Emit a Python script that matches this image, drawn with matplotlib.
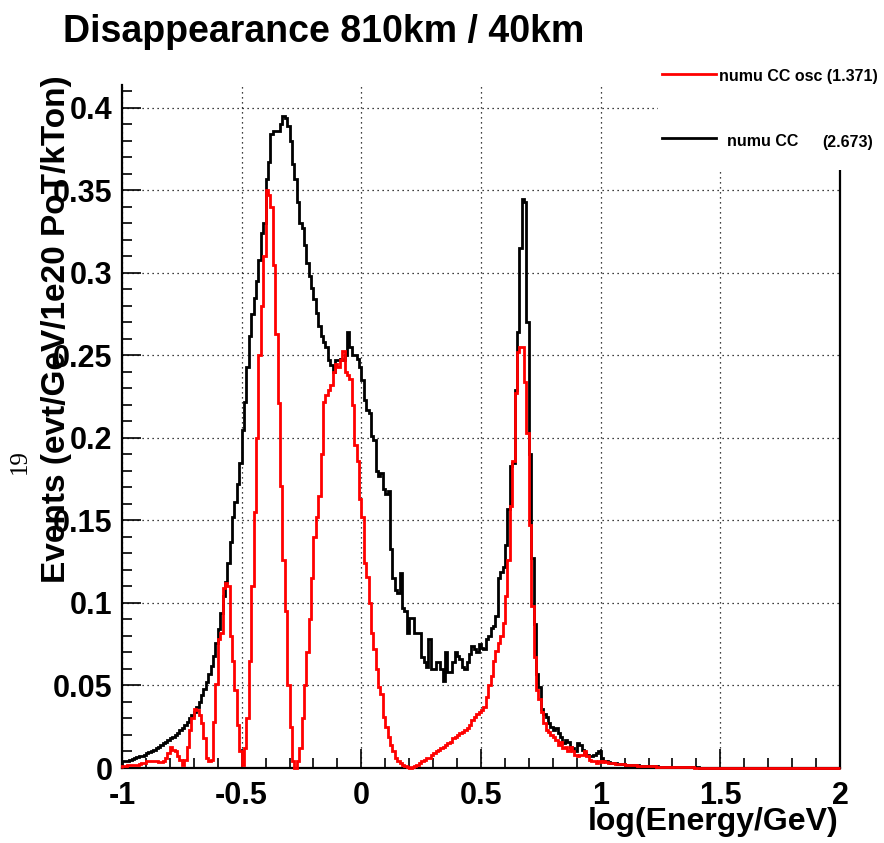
import numpy as np
import matplotlib.pyplot as plt
from matplotlib.patches import Rectangle
from matplotlib.lines import Line2D

plt.rcParams['font.family'] = ['Liberation Sans', 'DejaVu Sans']

# 300 bins of 0.01 in log10(E/GeV), from -1 to 2
edges = np.round(np.arange(-1.0, 2.0001, 0.01), 2)

numu_cc = np.array([
    0.004, 0.004, 0.0045, 0.005, 0.0055, 0.006, 0.0065, 0.007, 0.0075, 0.008,
    0.009, 0.0095, 0.010, 0.011, 0.012, 0.013, 0.014, 0.015, 0.016, 0.017,
    0.018, 0.019, 0.020, 0.021, 0.023, 0.024, 0.026, 0.028, 0.030, 0.032,
    0.034, 0.037, 0.040, 0.044, 0.048, 0.052, 0.057, 0.062, 0.068, 0.076,
    0.084, 0.094, 0.104, 0.113, 0.124, 0.137, 0.152, 0.161, 0.172, 0.185,
    0.205, 0.222, 0.243, 0.262, 0.275, 0.285, 0.295, 0.308, 0.324, 0.330,
    0.357, 0.367, 0.384, 0.386, 0.386, 0.386, 0.390, 0.395, 0.394, 0.389,
    0.380, 0.366, 0.357, 0.343, 0.330, 0.327, 0.317, 0.306, 0.298, 0.291,
    0.284, 0.276, 0.268, 0.262, 0.258, 0.255, 0.247, 0.244, 0.240, 0.247,
    0.247, 0.248, 0.247, 0.250, 0.264, 0.255, 0.250, 0.250, 0.248, 0.243,
    0.235, 0.223, 0.217, 0.215, 0.201, 0.199, 0.180, 0.177, 0.179, 0.169,
    0.166, 0.168, 0.133, 0.115, 0.108, 0.106, 0.118, 0.097, 0.095, 0.082,
    0.091, 0.091, 0.082, 0.082, 0.082, 0.067, 0.064, 0.061, 0.078, 0.060,
    0.060, 0.064, 0.064, 0.060, 0.053, 0.070, 0.058, 0.058, 0.064, 0.070,
    0.068, 0.066, 0.061, 0.060, 0.064, 0.069, 0.074, 0.072, 0.070, 0.075,
    0.073, 0.072, 0.078, 0.080, 0.085, 0.086, 0.092, 0.115, 0.119, 0.122,
    0.135, 0.157, 0.183, 0.185, 0.229, 0.264, 0.315, 0.345, 0.343, 0.270,
    0.190, 0.127, 0.087, 0.057, 0.049, 0.036, 0.033, 0.031, 0.027, 0.025,
    0.023, 0.024, 0.021, 0.019, 0.015, 0.017, 0.016, 0.013, 0.012, 0.010,
    0.015, 0.014, 0.011, 0.009, 0.008, 0.007, 0.007, 0.008, 0.009, 0.010,
    0.006, 0.0045, 0.004, 0.0035, 0.003, 0.003, 0.0028, 0.0026, 0.0025, 0.0023,
    0.0021, 0.002, 0.0019, 0.0018, 0.0017, 0.0016, 0.0015, 0.0014, 0.0013, 0.0013,
    0.0012, 0.0011, 0.001, 0.001, 0.0009, 0.0009, 0.0008, 0.0008, 0.0007, 0.0007,
    0.0006, 0.0006, 0.0006, 0.0005, 0.0005, 0.0005, 0.0005, 0.0004, 0.0004, 0.0004,
    0.0004, 0.0003, 0.0003, 0.0003, 0.0003, 0.0003, 0.0003, 0.0003, 0.0003, 0.0003,
    0.0003, 0.0003, 0.0003, 0.0003, 0.0002, 0.0002, 0.0002, 0.0002, 0.0002, 0.0002,
    0.0002, 0.0002, 0.0002, 0.0002, 0.0002, 0.0002, 0.0002, 0.0002, 0.0002, 0.0002,
    0.0002, 0.0002, 0.0001, 0.0001, 0.0001, 0.0001, 0.0001, 0.0001, 0.0001, 0.0001,
    0.0001, 0.0001, 0.0001, 0.0001, 0.0001, 0.0001, 0.0001, 0.0001, 0.0001, 0.0001,
    0.0001, 0.0001, 0.0001, 0.0001, 0.0001, 0.0001, 0.0001, 0.0001, 0.0001, 0.0001,
])

numu_cc_osc = np.array([
    0.0015, 0.0015, 0.002, 0.002, 0.002, 0.002, 0.002, 0.0025, 0.003, 0.003,
    0.004, 0.0045, 0.0045, 0.004, 0.004, 0.0035, 0.0035, 0.004, 0.006, 0.009,
    0.013, 0.011, 0.010, 0.007, 0.005, 0.002, 0.005, 0.013, 0.023, 0.030,
    0.036, 0.035, 0.032, 0.027, 0.018, 0.006, 0.004, 0.005, 0.028, 0.051,
    0.078, 0.082, 0.109, 0.112, 0.110, 0.080, 0.065, 0.047, 0.026, 0.010,
    0.002, 0.012, 0.030, 0.065, 0.110, 0.155, 0.200, 0.250, 0.280, 0.310,
    0.350, 0.347, 0.340, 0.305, 0.263, 0.221, 0.171, 0.126, 0.095, 0.050,
    0.025, 0.004, 0.000, 0.004, 0.012, 0.030, 0.050, 0.070, 0.090, 0.115,
    0.140, 0.152, 0.165, 0.190, 0.222, 0.226, 0.229, 0.232, 0.240, 0.245,
    0.243, 0.247, 0.253, 0.240, 0.238, 0.236, 0.220, 0.196, 0.186, 0.163,
    0.152, 0.124, 0.116, 0.100, 0.082, 0.072, 0.060, 0.049, 0.045, 0.031,
    0.025, 0.019, 0.014, 0.010, 0.006, 0.004, 0.003, 0.002, 0.001, 0.0005,
    0.000, 0.0005, 0.001, 0.002, 0.003, 0.004, 0.005, 0.006, 0.006, 0.008,
    0.009, 0.010, 0.011, 0.012, 0.013, 0.014, 0.015, 0.016, 0.018, 0.019,
    0.020, 0.021, 0.022, 0.023, 0.024, 0.026, 0.029, 0.031, 0.033, 0.034,
    0.035, 0.037, 0.043, 0.050, 0.056, 0.065, 0.071, 0.076, 0.080, 0.088,
    0.104, 0.126, 0.159, 0.186, 0.227, 0.252, 0.255, 0.255, 0.234, 0.203,
    0.147, 0.098, 0.067, 0.047, 0.042, 0.034, 0.027, 0.023, 0.022, 0.020,
    0.019, 0.017, 0.014, 0.016, 0.012, 0.013, 0.010, 0.013, 0.010, 0.008,
    0.007, 0.008, 0.008, 0.010, 0.007, 0.005, 0.004, 0.004, 0.003, 0.004,
    0.0035, 0.004, 0.0035, 0.003, 0.003, 0.0028, 0.0026, 0.0025, 0.0023, 0.0022,
    0.002, 0.0019, 0.0018, 0.0017, 0.0016, 0.0015, 0.0014, 0.0013, 0.0012, 0.0012,
    0.0011, 0.001, 0.001, 0.0009, 0.0009, 0.0008, 0.0008, 0.0007, 0.0007, 0.0006,
    0.0006, 0.0005, 0.0005, 0.0005, 0.0005, 0.0004, 0.0004, 0.0004, 0.0004, 0.0003,
    0.0003, 0.0003, 0.0003, 0.0003, 0.0003, 0.0003, 0.0003, 0.0003, 0.0003, 0.0003,
    0.0003, 0.0003, 0.0002, 0.0002, 0.0002, 0.0002, 0.0002, 0.0002, 0.0002, 0.0002,
    0.0002, 0.0002, 0.0002, 0.0002, 0.0002, 0.0002, 0.0002, 0.0002, 0.0002, 0.0002,
    0.0002, 0.0001, 0.0001, 0.0001, 0.0001, 0.0001, 0.0001, 0.0001, 0.0001, 0.0001,
    0.0001, 0.0001, 0.0001, 0.0001, 0.0001, 0.0001, 0.0001, 0.0001, 0.0001, 0.0001,
    0.0001, 0.0001, 0.0001, 0.0001, 0.0001, 0.0001, 0.0001, 0.0001, 0.0001, 0.0001,
])

xticks = [-1, -0.5, 0, 0.5, 1, 1.5, 2]
xticklabels = ['-1', '-0.5', '0', '0.5', '1', '1.5', '2']
yticks = [0, 0.05, 0.1, 0.15, 0.2, 0.25, 0.3, 0.35, 0.4]
yticklabels = ['0', '0.05', '0.1', '0.15', '0.2', '0.25', '0.3', '0.35', '0.4']

W, H = 884, 843
fig = plt.figure(figsize=(W / 100, H / 100), dpi=100)
ax = fig.add_axes([122 / W, 1 - 768 / H, (840 - 122) / W, (768 - 85) / H])

# drawn above the frame, like ROOT does, so the tails sit on the axis line
ax.stairs(numu_cc, edges, color='black', linewidth=2.0, zorder=3,
          clip_on=False)
ax.stairs(numu_cc_osc, edges, color='#ff0000', linewidth=2.0, zorder=3.1,
          clip_on=False)

ax.set_xlim(-1, 2)
ax.set_ylim(0, 0.4139)

ax.set_xticks(xticks)
ax.set_xticklabels(xticklabels)
ax.set_yticks(yticks)
ax.set_yticklabels(yticklabels)
ax.set_xticks(np.arange(-1, 2.001, 0.1), minor=True)
ax.set_yticks(np.arange(0, 0.411, 0.01), minor=True)

ax.tick_params(which='major', direction='in', length=14, width=1.2,
               labelsize=22, pad=7)
ax.tick_params(which='minor', direction='in', length=7.5, width=1.2)
ax.tick_params(axis='x', which='major', pad=9)
for lab in ax.get_xticklabels() + ax.get_yticklabels():
    lab.set_fontweight('bold')

ax.grid(True, which='major', color='black', linestyle=(0, (1, 3)),
        linewidth=0.9)
ax.set_axisbelow(True)

for s in ('left', 'bottom', 'right'):
    ax.spines[s].set_linewidth(1.6)
ax.spines['top'].set_visible(False)

# title and axis titles, placed the ROOT way
fig.text(63 / W, 1 - 42 / H, 'Disappearance 810km / 40km',
         fontsize=27, fontweight='bold', ha='left', va='baseline')
fig.text(57 / W, 1 - 75 / H, 'Events (evt/GeV/1e20 PoT/kTon)',
         rotation=90, fontsize=24, fontweight='bold', ha='center', va='top')
fig.text(838 / W, 1 - 822 / H, 'log(Energy/GeV)',
         fontsize=23, fontweight='bold', ha='right', va='center')
fig.text(20 / W, 1 - 462 / H, '19', rotation=90, fontsize=18,
         family=['Liberation Serif', 'DejaVu Serif'], ha='center', va='center')

# legend box (white, no border) in the top right corner
fig.patches.append(Rectangle((658 / W, 1 - 170 / H), 1.0, 170 / H,
                             transform=fig.transFigure, facecolor='white',
                             edgecolor='none', zorder=5))
fig.lines.append(Line2D([662 / W, 716 / W], [1 - 74 / H, 1 - 74 / H],
                        transform=fig.transFigure, color='#ff0000',
                        linewidth=2.0, zorder=6))
fig.lines.append(Line2D([662 / W, 716 / W], [1 - 138 / H, 1 - 138 / H],
                        transform=fig.transFigure, color='black',
                        linewidth=2.0, zorder=6))
fig.text(719 / W, 1 - 77 / H, 'numu CC osc (1.371)', fontsize=11.5,
         fontweight='bold', ha='left', va='center', zorder=7)
fig.text(727 / W, 1 - 142 / H, 'numu CC', fontsize=11.5,
         fontweight='bold', ha='left', va='center', zorder=7)
fig.text(822 / W, 1 - 142 / H, '(2.673)', fontsize=11.5,
         fontweight='bold', ha='left', va='center', zorder=7)

fig.savefig('out.png', dpi=100)
